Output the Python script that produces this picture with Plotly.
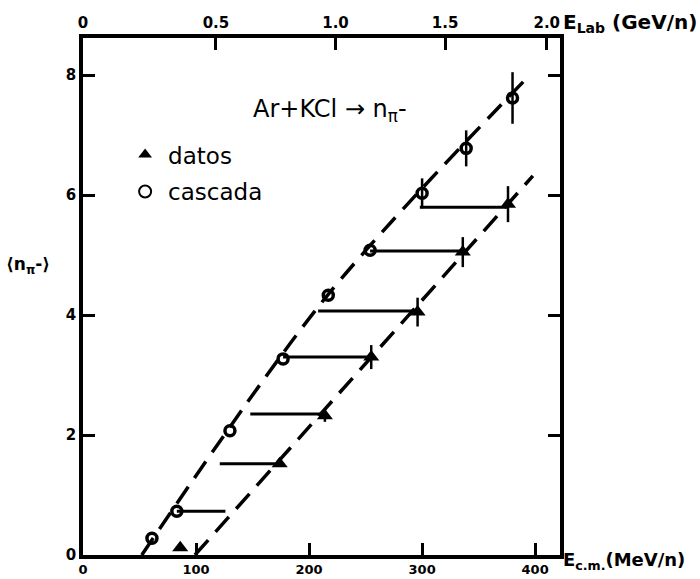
import numpy as np
import plotly.graph_objects as go

# Cascade calculation (open circles): E_cm per nucleon [MeV], <n_pi->
casc_E = [61, 83, 130, 177, 217, 254, 300, 339, 380]
casc_n = [0.28, 0.73, 2.07, 3.27, 4.33, 5.08, 6.03, 6.78, 7.62]
casc_err = [0, 0, 0, 0, 0, 0, 0.25, 0.30, 0.43]

# Measured multiplicities (triangles)
data_E = [86, 174, 214, 255, 296, 336, 376]
data_n = [0.12, 1.52, 2.32, 3.30, 4.05, 5.05, 5.85]
data_err = [0, 0, 0.10, 0.20, 0.24, 0.25, 0.30]

# Dashed guide curves drawn through each set
casc_line_E = [52, 215, 390]
casc_line_n = [0.0, 4.3, 7.9]
data_line_E = [99, 398]
data_line_n = [0.0, 6.32]

# Horizontal energy shifts between the two sets
shift_n = [0.73, 1.52, 2.35, 3.30, 4.07, 5.07, 5.80]
shift_E_from = [83, 121, 148, 177, 208, 254, 298]
shift_E_to = [126, 173, 214, 255, 296, 336, 376]

# Axis ticks
ecm_ticks = [0, 100, 200, 300, 400]
ny_ticks = [0, 2, 4, 6, 8]
elab_ticks = [0.0, 0.5, 1.0, 1.5, 2.0]
elab_text = ["0", "0.5", "1.0", "1.5", "2.0"]

X_RANGE = [0, 422]
Y_RANGE = [0, 8.62]

M_N = 0.938  # nucleon mass, GeV


def elab_to_ecm(t_lab):
    """Kinetic energy per nucleon in the c.m. frame (MeV) for a symmetric system."""
    t = np.asarray(t_lab, dtype=float)
    sqrt_s = np.sqrt(2 * M_N * (2 * M_N + t))
    return (sqrt_s - 2 * M_N) / 2 * 1000.0


FONT = "DejaVu Sans"
INK = "black"

fig = go.Figure()

# dashed guide curves
fig.add_trace(go.Scatter(
    x=casc_line_E, y=casc_line_n, mode="lines", showlegend=False, hoverinfo="skip",
    line=dict(color=INK, width=3.5, dash="20px,11px", shape="spline", smoothing=0.9),
))
fig.add_trace(go.Scatter(
    x=data_line_E, y=data_line_n, mode="lines", showlegend=False, hoverinfo="skip",
    line=dict(color=INK, width=3.5, dash="20px,11px"),
))

# horizontal shift segments
hx, hy = [], []
for n, e0, e1 in zip(shift_n, shift_E_from, shift_E_to):
    hx += [e0, e1, None]
    hy += [n, n, None]
fig.add_trace(go.Scatter(
    x=hx, y=hy, mode="lines", showlegend=False, hoverinfo="skip",
    line=dict(color=INK, width=3),
))

# points
fig.add_trace(go.Scatter(
    x=data_E, y=data_n, mode="markers", name="datos",
    marker=dict(symbol="triangle-up", size=14, color=INK),
    error_y=dict(type="data", array=data_err, color=INK, thickness=2.5, width=0),
    legendgroup="a",
))
fig.add_trace(go.Scatter(
    x=casc_E, y=casc_n, mode="markers", name="cascada",
    marker=dict(symbol="circle-open", size=10, color=INK, line=dict(width=3.5, color=INK)),
    error_y=dict(type="data", array=casc_err, color=INK, thickness=2.5, width=0),
    legendgroup="b",
))

# invisible trace to activate the top axis
fig.add_trace(go.Scatter(x=[None], y=[None], xaxis="x2", showlegend=False))

axis_common = dict(
    showline=True, linecolor=INK, linewidth=3.5,
    ticks="inside", ticklen=12, tickwidth=3, tickcolor=INK,
    showgrid=False, zeroline=False,
)


def tick_font(size):
    return dict(family=FONT, size=size, color=INK, weight="bold")


fig.update_layout(
    width=700, height=579,
    margin=dict(l=83, r=140, t=38, b=24, autoexpand=False),
    paper_bgcolor="white", plot_bgcolor="white",
    font=dict(family=FONT, color=INK),
    xaxis=dict(range=X_RANGE, tickvals=ecm_ticks, tickfont=tick_font(13), **axis_common),
    xaxis2=dict(range=X_RANGE, overlaying="x", side="top",
                tickvals=list(elab_to_ecm(elab_ticks)), ticktext=elab_text,
                tickfont=tick_font(15), **axis_common),
    yaxis=dict(range=Y_RANGE, tickvals=ny_ticks, mirror="ticks",
               tickfont=tick_font(15), **axis_common),
    legend=dict(
        x=0.082, y=0.816, xanchor="left", yanchor="top",
        bgcolor="rgba(0,0,0,0)", font=dict(family=FONT, size=23, color=INK),
        tracegroupgap=4, itemsizing="constant", itemwidth=36,
    ),
)

fig.add_annotation(
    xref="paper", yref="paper", x=0.518, y=0.893,
    text="Ar+KCl → n<sub>π</sub>-", showarrow=False,
    font=dict(family=FONT, size=24, color=INK),
)
fig.add_annotation(
    xref="paper", yref="paper", x=-0.165, y=0.56, xanchor="left",
    text="⟨n<sub>π</sub>-⟩", showarrow=False,
    font=dict(family=FONT, size=17, color=INK, weight="bold"),
)
fig.add_annotation(
    xref="paper", yref="paper", x=1.003, y=1.0, xanchor="left", yanchor="bottom",
    text="E<sub>Lab</sub> (GeV/n)", showarrow=False,
    font=dict(family=FONT, size=20, color=INK, weight="bold"),
)
fig.add_annotation(
    xref="paper", yref="paper", x=1.003, y=-0.012, xanchor="left", yanchor="middle",
    text="E<sub>c.m.</sub>(MeV/n)", showarrow=False,
    font=dict(family=FONT, size=18, color=INK, weight="bold"),
)

fig.write_html("out.html")
